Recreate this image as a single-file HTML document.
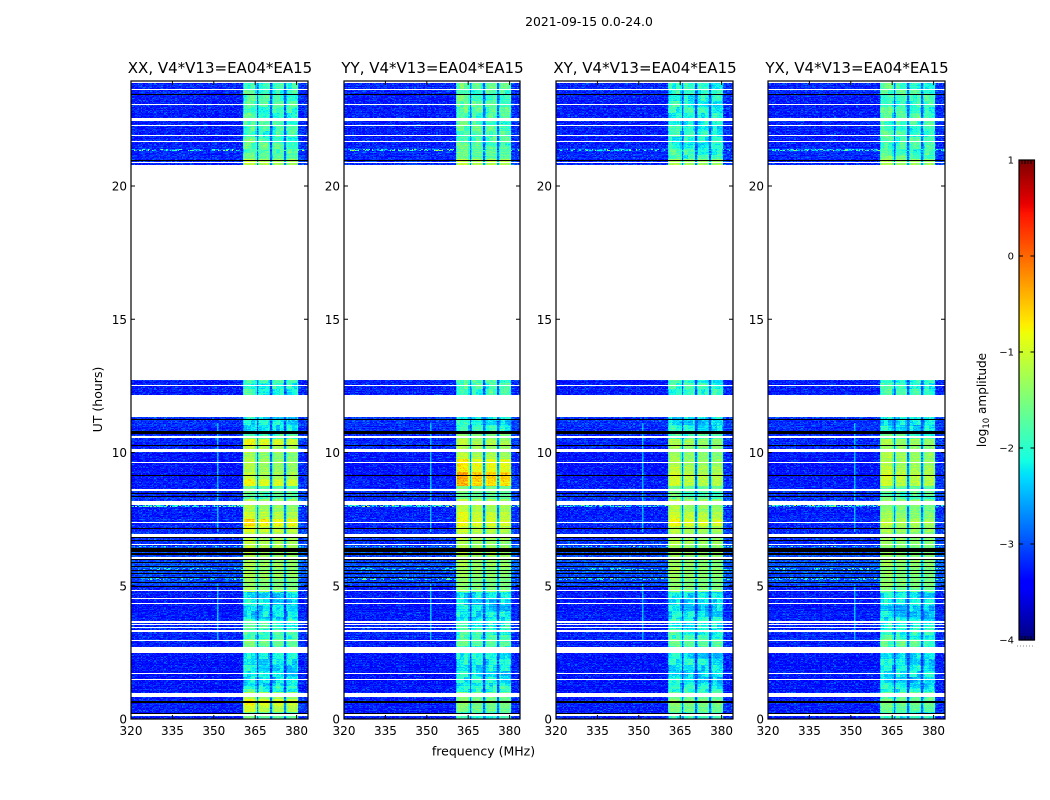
<!DOCTYPE html>
<html>
<head>
<meta charset="utf-8">
<title>Spectrogram 2021-09-15</title>
<style>
html,body{margin:0;padding:0;background:#fff;}
#figure{position:relative;width:1050px;height:800px;overflow:hidden;background:#fff;font-family:"DejaVu Sans","Liberation Sans",sans-serif;}
#figure canvas{position:absolute;image-rendering:pixelated;}
#overlay{position:absolute;left:0;top:0;}
</style>
</head>
<body>
<div id="figure">
<svg id="overlay" width="1050" height="800" viewBox="0 0 1050 800">
<text x="589" y="26" text-anchor="middle" font-size="12.4" fill="#000">2021-09-15 0.0-24.0</text>
<text x="483.5" y="755.5" text-anchor="middle" font-size="12.5" fill="#000">frequency (MHz)</text>
<text transform="translate(102,399.5) rotate(-90)" text-anchor="middle" font-size="12.5" fill="#000">UT (hours)</text>
<text transform="translate(986,400) rotate(-90)" text-anchor="middle" font-size="12.1" fill="#000">log<tspan font-size="8.5" dy="3">10</tspan><tspan dy="-3"> amplitude</tspan></text>
</svg>
</div>
<script>
// ---- chart data ----
const polarizationTitles = ["XX, V4*V13=EA04*EA15","YY, V4*V13=EA04*EA15","XY, V4*V13=EA04*EA15","YX, V4*V13=EA04*EA15"];
const freqTicks = [320,335,350,365,380];
const hourTicks = [0,5,10,15,20];
const colorbarTicks = [1,0,-1,-2,-3,-4];

// Band level (log10 amplitude) in the 361-380 MHz block, per quarter hour from 0 h.
const bandXX = [-1.6,-1.0,-0.8,-1.2, -1.9,-2.2,-2.2,-2.2, -2.1,-2.2,-1.7,-1.5, -1.8,-1.9,-1.9,-2.2, -2.3,-2.2,-2.2,-1.3, -1.4,-1.2,-1.3,-1.2, -1.2,-1.1,-1.1,-1.1, -0.9,-0.6,-1.0,-1.2, -1.2,-1.7,-1.6,-0.8, -1.1,-1.2,-1.2,-1.3, -1.1,-0.8,-1.7,-2.2, -2.2,-2.2,null,null,
-1.9,-1.9,-1.9,null, null,null,null,null, null,null,null,null, null,null,null,null, null,null,null,null, null,null,null,null, null,null,null,null, null,null,null,null, null,null,null,-1.1, -1.6,-1.7,-1.7,-1.8, -1.8,-1.8,-1.8,-1.8, -1.8,-1.8,-1.8,-1.8];
const bandYY = [-1.8,-1.5,-1.4,-1.5, -1.9,-2.1,-2.1,-2.1, -2.1,-2.1,-1.8,-1.6, -1.9,-1.9,-2.0,-2.2, -2.3,-2.2,-2.2,-1.4, -1.4,-1.3,-1.3,-1.2, -1.2,-1.2,-1.2,-1.1, -1.0,-0.8,-0.9,-1.1, -1.1,-1.6,-1.5,-0.4, -0.3,-0.7,-0.7,-1.1, -1.2,-1.1,-1.4,-2.0, -2.1,-2.1,null,null,
-1.8,-1.8,-1.8,null, null,null,null,null, null,null,null,null, null,null,null,null, null,null,null,null, null,null,null,null, null,null,null,null, null,null,null,null, null,null,null,-1.1, -1.6,-1.6,-1.7,-1.7, -1.7,-1.7,-1.7,-1.7, -1.7,-1.7,-1.7,-1.7];
const bandXY = [-1.9,-1.5,-1.4,-1.6, -2.0,-2.2,-2.2,-2.2, -2.1,-2.2,-1.8,-1.6, -1.9,-2.0,-2.0,-2.2, -2.3,-2.2,-2.2,-1.4, -1.4,-1.3,-1.3,-1.3, -1.3,-1.3,-1.2,-1.2, -1.1,-0.8,-1.0,-1.2, -1.2,-1.7,-1.6,-1.0, -1.0,-1.1,-1.2,-1.3, -1.3,-1.2,-1.8,-2.1, -2.2,-2.2,null,null,
-1.9,-1.9,-1.9,null, null,null,null,null, null,null,null,null, null,null,null,null, null,null,null,null, null,null,null,null, null,null,null,null, null,null,null,null, null,null,null,-1.2, -1.9,-1.9,-2.0,-2.0, -2.0,-2.0,-2.0,-2.0, -2.0,-2.0,-2.0,-2.0];
const bandYX = [-2.0,-1.6,-1.5,-1.7, -2.1,-2.2,-2.2,-2.2, -2.2,-2.2,-1.9,-1.7, -1.9,-2.0,-2.1,-2.3, -2.3,-2.2,-2.2,-1.5, -1.4,-1.4,-1.4,-1.3, -1.4,-1.4,-1.3,-1.3, -1.2,-1.1,-1.3,-1.4, -1.4,-1.7,-1.6,-1.0, -1.0,-1.1,-1.2,-1.2, -1.3,-1.2,-1.8,-2.1, -2.2,-2.2,null,null,
-1.9,-1.9,-1.9,null, null,null,null,null, null,null,null,null, null,null,null,null, null,null,null,null, null,null,null,null, null,null,null,null, null,null,null,null, null,null,null,-1.2, -1.7,-1.8,-1.8,-1.8, -1.8,-1.8,-1.8,-1.8, -1.8,-1.8,-1.8,-1.8];
const bandLevels = [bandXX,bandYY,bandXY,bandYX];

// Background level per half hour (log10 amplitude).
const backgroundLevel = [-3.25,-3.25,-3.3,-3.3,-3.3,-3.25,-3.2,-3.25,-3.3,-3.25,-3.05,-3.0,-3.05,-3.15,-3.2,-3.25,-3.15,-3.25,-3.3,-3.3,-3.2,-3.2,-3.15,-3.2,-3.25,-3.25,-3.3,-3.3,-3.3,-3.3,-3.3,-3.3,-3.3,-3.3,-3.3,-3.3,-3.3,-3.3,-3.3,-3.3,-3.3,-3.2,-3.2,-3.25,-3.25,-3.25,-3.25,-3.2];

// Channel weight toward the band level, one entry per 0.5 MHz channel from 320 MHz.
const channelWeight = [
0,0,0,0,0,0,0,0,0,0,0,0,0,0,0,0,0,0,0,0,0,0,0,0,0,0,0,0,0,0,0,0,0,0,0,0,0,0,0,0,
0,0,0,0,0,0,0,0,0,0,0,0,0,0,0,0,0,0,0,0,0,0,0,0,0,0,0,0,0,0,0,0,0,0,0,0,0,0,0,0,0,
0.7,1,1,1,1,1,1,1,1,0.78,0.25,0.62,0.92,0.94,0.94,0.94,0.94,0.94,0.92,0.78,0.22,0.6,0.9,0.93,0.93,0.93,0.93,0.93,0.92,0.78,0.25,0.62,0.88,0.92,0.92,0.92,0.92,0.92,0.9,0.85,0.15,0.06,0.06,0.06,0.06,0.06,0.06,0.08];

// Hour ranges with no data (white) and flagged to zero (black).
const gapHours = [[0.11,0.17],[0.825,0.964],[1.45,1.5],[1.69,1.726],[2.49,2.70],[2.93,2.96],[3.26,3.34],[3.41,3.45],[3.51,3.55],[3.62,3.66],[4.315,4.35],[4.50,4.54],[4.80,4.84],[6.02,6.08],[6.53,6.57],[6.83,6.94],[7.36,7.40],[8.03,8.18],[8.56,8.63],[9.6,9.64],[10.02,10.13],[10.54,10.62],[11.33,12.17],[12.5,12.53],[12.59,12.62],[12.72,20.79],[20.86,20.9],[21.65,21.69],[21.87,21.91],[22.24,22.28],[22.44,22.55],[23.04,23.08],[23.6,23.64],[23.88,24]];
const flagHours = [[0.17,0.225],[0.60,0.675],[4.95,4.99],[5.10,5.14],[5.29,5.33],[5.44,5.48],[5.55,5.59],[5.70,5.74],[5.85,5.89],[5.97,6.01],[6.15,6.22],[6.26,6.42],[6.68,6.72],[6.78,6.82],[7.13,7.17],[8.33,8.37],[8.44,8.48],[9.13,9.17],[10.25,10.29],[10.71,10.81],[11.22,11.26],[20.92,20.99],[23.41,23.45]];

// Narrow horizontal interference streaks: hour and level.
const streakHours = [7.99,21.35,5.62,5.25,6.47];
const streakLevels = [-2.6,-2.7,-3.0,-3.0,-2.9];
// Narrow interference line near 351 MHz: active hour ranges, channels and levels.
const lineHours = [[2.95,5.05],[7.0,11.1]];
const lineChannels = [62,63];
const lineLevels = [-2.45,-2.85];

// Speckle offsets.
const rowGrain = [0.05,-0.1,0.12,0,-0.06,0.15,-0.12,0.04,0.08,-0.04,-0.14,0.1,0.02,-0.08,0.14,-0.02,0.06,-0.16,0.09,0.03,-0.05,0.11,-0.09,0.01,0.13,-0.11,0.07,-0.03,0,0.1,-0.13,0.05,-0.07,0.08,-0.01,0.12,-0.06];
const fineGrain = [0.1,-0.25,0.35,-0.05,0.2,-0.4,0.05,0.5,-0.15,-0.3,0.15,0,0.3,-0.2,0.62,-0.1,-0.35,0.25,0.08,-0.45,0.4,-0.02,0.18,-0.28,0.05,0.82,-0.12,-0.38,0.22,0.12,-0.18,0.45,-0.08,-0.32,0.28,0.02,-0.22,0.55,-0.42,0.14,-0.06,0.32,-0.16,0.03,0.38,-0.5,0.2,-0.26,0.1,0.68,-0.34,0.06,-0.14,0.26,-0.04,-0.24,0.42,0.16,-0.44,0.07,-0.1];
// Blotchy patches seen in the weaker stretches of the band.
const patchOffsets = [0.2,-0.25,0.05,0.3,-0.15,-0.3,0.1,0.25,-0.05,-0.2,0.15,-0.35,0.28,0,-0.12,0.22,-0.28,0.08,0.18,-0.18,0.32,-0.08,0.12];

// ---- scales ----
const panelLefts = [131,344,556,768];
const panelWidths = [177,176,177,177];
const plotTop = 81;
const plotBottom = 719;
const hourPx = 26.65;
const freqPx = 2.76;
const freqMin = 320;
const channelStep = 0.5;
const rowStep = 1/26.65;
const cbarLeft = 1019, cbarWidth = 15.5, cbarTop = 160, cbarBottom = 640;
const vMin = -4, vMax = 1;

function xScale(freq){ return (freq-freqMin)*freqPx; }
function yScale(hour){ return plotBottom-hour*hourPx; }
function cbarY(v){ return cbarBottom-(v-vMin)/(vMax-vMin)*(cbarBottom-cbarTop); }
function clamp01(x){ return Math.max(0,Math.min(1,x)); }
function jet(v){
  const t = clamp01((v-vMin)/(vMax-vMin));
  let r,g,b;
  if(t<0.35) r=0; else if(t<0.66) r=(t-0.35)/0.31; else if(t<0.89) r=1; else r=1-(t-0.89)/0.11*0.5;
  if(t<0.125) g=0; else if(t<0.375) g=(t-0.125)/0.25; else if(t<0.64) g=1; else if(t<0.91) g=1-(t-0.64)/0.27; else g=0;
  if(t<0.11) b=0.5+t/0.11*0.5; else if(t<0.34) b=1; else if(t<0.65) b=1-(t-0.34)/0.31; else b=0;
  return "rgb("+Math.round(r*255)+","+Math.round(g*255)+","+Math.round(b*255)+")";
}
function inRanges(h,ranges){
  for(const rng of ranges){ if(h>=rng[0] && h<rng[1]) return true; }
  return false;
}

// ---- heatmaps ----
const figure = document.getElementById('figure');
const svg = document.getElementById('overlay');
const NS = 'http://www.w3.org/2000/svg';
const panelKeys = ['xx','yy','xy','yx'];

function drawPanel(p){
  const left = panelLefts[p];
  const panelWidth = panelWidths[p];
  const cv = document.createElement('canvas');
  
  
  cv.width = panelWidth;
  cv.height = plotBottom-plotTop;
  cv.style.left = left+'px';
  cv.style.top = plotTop+'px';
  figure.insertBefore(cv, svg);
  const ctx = cv.getContext('2d');
  const rows = Math.ceil(24/rowStep);
  for(let r=0;r<rows;r++){
    const hour = (r+0.5)*rowStep;
    if(inRanges(hour,gapHours)) continue;
    const y1 = Math.round(yScale(r*rowStep))-plotTop;
    const y0 = Math.round(yScale((r+1)*rowStep))-plotTop;
    if(inRanges(hour,flagHours)){
      ctx.fillStyle = '#000';
      ctx.fillRect(0,y0,panelWidth,Math.max(1,y1-y0));
      continue;
    }
    const bg = backgroundLevel[Math.min(47,Math.floor(hour*2))];
    const bandRaw = bandLevels[p][Math.min(95,Math.floor(hour*4))];
    const band = bandRaw===null ? bg : bandRaw;
    let streak = null;
    streakHours.forEach(function(sh,si){ if(Math.abs(hour-sh)<rowStep*0.8) streak = streakLevels[si]; });
    const lineOn = inRanges(hour,lineHours);
    for(let c=0;c<channelWeight.length;c++){
      const f = freqMin+c*channelStep;
      const x0 = Math.round(xScale(f));
      const x1 = Math.round(xScale(f+channelStep));
      if(x0>=panelWidth) continue;
      const w = channelWeight[c];
      const g = fineGrain[(c*c*3+r*r*5+r*c+p*11)%fineGrain.length];
      const rg = rowGrain[(r+p*3)%rowGrain.length];
      let v = bg+w*(band-bg)+g*(w>0.5?0.35:0.5)+rg*0.5;
      if(w>0.5 && band<-1.6){
        v += patchOffsets[(Math.floor(c/3)*5+Math.floor(r/6)*7+p*2)%patchOffsets.length]*0.8;
      }
      const li = lineChannels.indexOf(c);
      if(lineOn && li>=0) v = Math.max(v,lineLevels[li]+g*0.3);
      if(streak!==null && w<0.5) v = Math.max(v,streak+g*2.0);
      ctx.fillStyle = jet(v);
      ctx.fillRect(x0,y0,Math.max(1,x1-x0),Math.max(1,y1-y0));
    }
  }
}
panelLefts.forEach(function(_,p){ drawPanel(p); });

// ---- axes ----
function addLine(x1,y1,x2,y2,name,width){
  const l = document.createElementNS(NS,'line');
  
  
  l.setAttribute('x1',x1); l.setAttribute('y1',y1);
  l.setAttribute('x2',x2); l.setAttribute('y2',y2);
  l.setAttribute('stroke','#000');
  l.setAttribute('stroke-width',width||1);
  svg.appendChild(l);
  return l;
}
function addText(x,y,str,anchor,size,name){
  const t = document.createElementNS(NS,'text');
  
  
  t.setAttribute('x',x); t.setAttribute('y',y);
  t.setAttribute('text-anchor',anchor);
  t.setAttribute('font-size',size);
  t.setAttribute('fill','#000');
  t.textContent = str;
  svg.appendChild(t);
  return t;
}
panelLefts.forEach(function(L,p){
  const panelWidth = panelWidths[p];
  const R = L+panelWidth;
  const frame = document.createElementNS(NS,'rect');
  
  
  frame.setAttribute('x',L); frame.setAttribute('y',plotTop);
  frame.setAttribute('width',panelWidth); frame.setAttribute('height',plotBottom-plotTop);
  frame.setAttribute('fill','none');
  frame.setAttribute('stroke','#000');
  frame.setAttribute('stroke-width',1.2);
  svg.appendChild(frame);
  addText(L+panelWidth/2+0.5,73,polarizationTitles[p],'middle',15,'panel-title-'+panelKeys[p]);
  freqTicks.forEach(function(f){
    const x = L+xScale(f);
    addLine(x,plotBottom,x,plotBottom-4,'x-tick-bottom');
    addLine(x,plotTop,x,plotTop+4,'x-tick-top');
    addText(x,735,String(f),'middle',12,'x-tick-label');
  });
  hourTicks.forEach(function(h){
    const y = yScale(h);
    addLine(L,y,L+4,y,'y-tick-left');
    addLine(R,y,R-4,y,'y-tick-right');
    addText(L-4,y+4.5,String(h),'end',12,'y-tick-label');
  });
});

// ---- colorbar ----
const cbarSteps = 256;
for(let i=0;i<cbarSteps;i++){
  const v0 = vMin+(vMax-vMin)*i/cbarSteps;
  const v1 = vMin+(vMax-vMin)*(i+1)/cbarSteps;
  const seg = document.createElementNS(NS,'rect');
  
  
  seg.setAttribute('x',cbarLeft);
  seg.setAttribute('y',cbarY(v1));
  seg.setAttribute('width',cbarWidth);
  seg.setAttribute('height',cbarY(v0)-cbarY(v1)+0.6);
  seg.setAttribute('fill',jet((v0+v1)/2));
  svg.appendChild(seg);
}
const cbarFrame = document.createElementNS(NS,'rect');


cbarFrame.setAttribute('x',cbarLeft);
cbarFrame.setAttribute('y',cbarTop);
cbarFrame.setAttribute('width',cbarWidth);
cbarFrame.setAttribute('height',cbarBottom-cbarTop);
cbarFrame.setAttribute('fill','none');
cbarFrame.setAttribute('stroke','#000');
cbarFrame.setAttribute('stroke-width',1.2);
svg.appendChild(cbarFrame);
colorbarTicks.forEach(function(v){
  const y = cbarY(v);
  addLine(cbarLeft,y,cbarLeft+4,y,'colorbar-tick-left');
  addLine(cbarLeft+cbarWidth,y,cbarLeft+cbarWidth-4,y,'colorbar-tick-right');
  addText(cbarLeft-5,y+3.5,(v<0?'\u2212':'')+Math.abs(v),'end',10,'colorbar-tick-label');
  if(v===vMin||v===vMax){
    for(let k=1;k<=4;k++){
      const x = cbarLeft+k*3;
      addLine(x,y,x,y+(v===vMax?4:-4),'colorbar-minor-tick');
    }
  }
});
const dots = addLine(1017,646,1035,646,'colorbar-offset-dots');
dots.setAttribute('stroke','#888');
dots.setAttribute('stroke-dasharray','1 2');
</script>
</body>
</html>
